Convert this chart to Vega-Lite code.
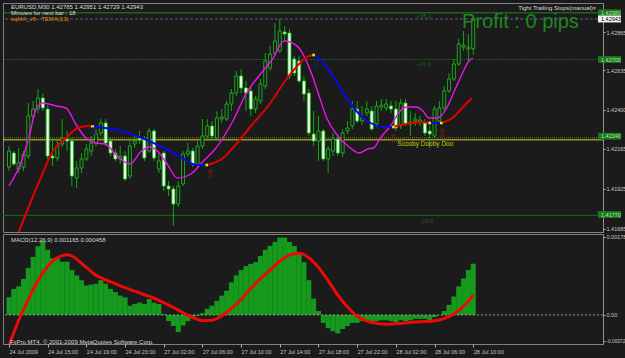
{
"$schema": "https://vega.github.io/schema/vega-lite/v6.json",
"background": "#1b1b1b",
"padding": {"left": 2, "top": 2, "right": 0, "bottom": 2},
"spacing": 2,
"bounds": "flush",
"config": {
  "view": {"stroke": "#808080", "fill": "#1b1b1b"},
  "font": "Liberation Sans",
  "axis": {"labelFont": "Liberation Sans", "labelFontSize": 5.5, "labelColor": "#c8c8c8", "grid": false, "tickColor": "#b0b0b0", "tickSize": 2, "labelPadding": 1},
  "text": {"font": "Liberation Sans"}
},
"datasets": {
  "candles": [
    {"i":0,"o":1.42055,"h":1.42181,"l":1.42031,"c":1.42151},
    {"i":1,"o":1.42139,"h":1.42151,"l":1.42061,"c":1.42073},
    {"i":2,"o":1.42043,"h":1.42169,"l":1.42019,"c":1.42079},
    {"i":3,"o":1.42055,"h":1.42151,"l":1.42031,"c":1.42133},
    {"i":4,"o":1.42121,"h":1.42439,"l":1.42103,"c":1.42361},
    {"i":5,"o":1.42361,"h":1.42451,"l":1.42343,"c":1.42403},
    {"i":6,"o":1.42403,"h":1.42523,"l":1.42379,"c":1.42469},
    {"i":7,"o":1.42469,"h":1.42499,"l":1.42391,"c":1.42409},
    {"i":8,"o":1.42403,"h":1.42427,"l":1.42103,"c":1.42121},
    {"i":9,"o":1.42121,"h":1.42211,"l":1.42061,"c":1.42109},
    {"i":10,"o":1.42109,"h":1.42223,"l":1.42091,"c":1.42181},
    {"i":11,"o":1.42193,"h":1.42343,"l":1.42175,"c":1.42229},
    {"i":12,"o":1.42223,"h":1.42271,"l":1.42151,"c":1.42211},
    {"i":13,"o":1.42211,"h":1.42229,"l":1.41941,"c":1.42001},
    {"i":14,"o":1.41989,"h":1.42091,"l":1.41929,"c":1.42049},
    {"i":15,"o":1.42049,"h":1.42139,"l":1.42019,"c":1.42103},
    {"i":16,"o":1.42103,"h":1.42193,"l":1.42091,"c":1.42163},
    {"i":17,"o":1.42151,"h":1.42241,"l":1.42121,"c":1.42199},
    {"i":18,"o":1.42199,"h":1.42283,"l":1.42181,"c":1.42253},
    {"i":19,"o":1.42259,"h":1.42343,"l":1.42241,"c":1.42319},
    {"i":20,"o":1.42319,"h":1.42343,"l":1.42181,"c":1.42199},
    {"i":21,"o":1.42211,"h":1.42229,"l":1.42121,"c":1.42139},
    {"i":22,"o":1.42139,"h":1.42163,"l":1.42091,"c":1.42103},
    {"i":23,"o":1.42103,"h":1.42181,"l":1.42073,"c":1.42121},
    {"i":24,"o":1.42121,"h":1.42151,"l":1.41971,"c":1.41983},
    {"i":25,"o":1.42001,"h":1.42211,"l":1.41983,"c":1.42181},
    {"i":26,"o":1.42193,"h":1.42253,"l":1.42169,"c":1.42211},
    {"i":27,"o":1.42229,"h":1.42271,"l":1.42193,"c":1.42217},
    {"i":28,"o":1.42223,"h":1.42241,"l":1.42091,"c":1.42109},
    {"i":29,"o":1.42151,"h":1.42289,"l":1.42139,"c":1.42271},
    {"i":30,"o":1.42271,"h":1.42283,"l":1.42091,"c":1.42109},
    {"i":31,"o":1.42043,"h":1.42139,"l":1.42019,"c":1.42091},
    {"i":32,"o":1.42139,"h":1.42151,"l":1.41911,"c":1.41941},
    {"i":33,"o":1.41941,"h":1.41971,"l":1.41881,"c":1.41923},
    {"i":34,"o":1.41923,"h":1.41941,"l":1.41701,"c":1.41833},
    {"i":35,"o":1.41833,"h":1.41971,"l":1.41815,"c":1.41941},
    {"i":36,"o":1.41953,"h":1.42151,"l":1.41941,"c":1.42133},
    {"i":37,"o":1.42133,"h":1.42199,"l":1.42115,"c":1.42151},
    {"i":38,"o":1.42151,"h":1.42169,"l":1.42055,"c":1.42073},
    {"i":39,"o":1.42073,"h":1.42211,"l":1.42055,"c":1.42181},
    {"i":40,"o":1.42181,"h":1.42343,"l":1.42163,"c":1.42241},
    {"i":41,"o":1.42241,"h":1.42343,"l":1.42223,"c":1.42301},
    {"i":42,"o":1.42301,"h":1.42331,"l":1.42211,"c":1.42241},
    {"i":43,"o":1.42229,"h":1.42391,"l":1.42211,"c":1.42349},
    {"i":44,"o":1.42343,"h":1.42403,"l":1.42319,"c":1.42355},
    {"i":45,"o":1.42343,"h":1.42451,"l":1.42331,"c":1.42433},
    {"i":46,"o":1.42433,"h":1.42523,"l":1.42391,"c":1.42499},
    {"i":47,"o":1.42499,"h":1.42631,"l":1.42481,"c":1.42601},
    {"i":48,"o":1.42601,"h":1.42643,"l":1.42499,"c":1.42529},
    {"i":49,"o":1.42529,"h":1.42571,"l":1.42391,"c":1.42499},
    {"i":50,"o":1.42511,"h":1.42541,"l":1.42361,"c":1.42403},
    {"i":51,"o":1.42403,"h":1.42481,"l":1.42379,"c":1.42463},
    {"i":52,"o":1.42451,"h":1.42583,"l":1.42433,"c":1.42553},
    {"i":53,"o":1.42541,"h":1.42739,"l":1.42523,"c":1.42691},
    {"i":54,"o":1.42649,"h":1.42781,"l":1.42631,"c":1.42733},
    {"i":55,"o":1.42739,"h":1.42919,"l":1.42721,"c":1.42811},
    {"i":56,"o":1.42751,"h":1.42943,"l":1.42739,"c":1.42871},
    {"i":57,"o":1.42865,"h":1.42901,"l":1.42811,"c":1.42853},
    {"i":58,"o":1.42859,"h":1.42883,"l":1.42583,"c":1.42601},
    {"i":59,"o":1.42703,"h":1.42721,"l":1.42601,"c":1.42619},
    {"i":60,"o":1.42691,"h":1.42721,"l":1.42559,"c":1.42571},
    {"i":61,"o":1.42571,"h":1.42601,"l":1.42451,"c":1.42493},
    {"i":62,"o":1.42499,"h":1.42523,"l":1.42241,"c":1.42259},
    {"i":63,"o":1.42253,"h":1.42391,"l":1.42181,"c":1.42211},
    {"i":64,"o":1.42211,"h":1.42361,"l":1.42091,"c":1.42271},
    {"i":65,"o":1.42271,"h":1.42283,"l":1.42091,"c":1.42103},
    {"i":66,"o":1.42103,"h":1.42181,"l":1.42019,"c":1.42163},
    {"i":67,"o":1.42151,"h":1.42259,"l":1.42121,"c":1.42223},
    {"i":68,"o":1.42223,"h":1.42241,"l":1.42121,"c":1.42139},
    {"i":69,"o":1.42139,"h":1.42283,"l":1.42115,"c":1.42259},
    {"i":70,"o":1.42271,"h":1.42331,"l":1.42253,"c":1.42289},
    {"i":71,"o":1.42301,"h":1.42451,"l":1.42283,"c":1.42403},
    {"i":72,"o":1.42403,"h":1.42451,"l":1.42319,"c":1.42331},
    {"i":73,"o":1.42331,"h":1.42421,"l":1.42307,"c":1.42349},
    {"i":74,"o":1.42379,"h":1.42451,"l":1.42361,"c":1.42403},
    {"i":75,"o":1.42391,"h":1.42421,"l":1.42271,"c":1.42283},
    {"i":76,"o":1.42313,"h":1.42451,"l":1.42295,"c":1.42421},
    {"i":77,"o":1.42415,"h":1.42463,"l":1.42391,"c":1.42427},
    {"i":78,"o":1.42409,"h":1.42463,"l":1.42391,"c":1.42433},
    {"i":79,"o":1.42421,"h":1.42451,"l":1.42379,"c":1.42403},
    {"i":80,"o":1.42403,"h":1.42451,"l":1.42271,"c":1.42289},
    {"i":81,"o":1.42301,"h":1.42463,"l":1.42283,"c":1.42439},
    {"i":82,"o":1.42439,"h":1.42463,"l":1.42301,"c":1.42313},
    {"i":83,"o":1.42313,"h":1.42391,"l":1.42241,"c":1.42325},
    {"i":84,"o":1.42331,"h":1.42379,"l":1.42301,"c":1.42343},
    {"i":85,"o":1.42325,"h":1.42361,"l":1.42301,"c":1.42337},
    {"i":86,"o":1.42319,"h":1.42343,"l":1.42241,"c":1.42259},
    {"i":87,"o":1.42271,"h":1.42301,"l":1.42169,"c":1.42253},
    {"i":88,"o":1.42241,"h":1.42421,"l":1.42229,"c":1.42403},
    {"i":89,"o":1.42331,"h":1.42451,"l":1.42319,"c":1.42409},
    {"i":90,"o":1.42409,"h":1.42541,"l":1.42391,"c":1.42511},
    {"i":91,"o":1.42511,"h":1.42619,"l":1.42499,"c":1.42583},
    {"i":92,"o":1.42583,"h":1.42703,"l":1.42571,"c":1.42673},
    {"i":93,"o":1.42673,"h":1.42823,"l":1.42661,"c":1.42793},
    {"i":94,"o":1.42775,"h":1.42871,"l":1.42751,"c":1.42787},
    {"i":95,"o":1.42763,"h":1.42853,"l":1.42691,"c":1.42775},
    {"i":96,"o":1.42765,"h":1.42951,"l":1.42729,"c":1.42943}
  ],
  "magenta": [
    {"i":0,"p":1.41941},{"i":2.6,"p":1.42091},{"i":4.1,"p":1.42229},{"i":5.7,"p":1.42409},{"i":7.1,"p":1.42439},
    {"i":9.8,"p":1.42421},{"i":11.8,"p":1.42409},{"i":13.8,"p":1.42313},{"i":15.9,"p":1.42229},{"i":17.9,"p":1.42199},
    {"i":19.9,"p":1.42193},{"i":22,"p":1.42133},{"i":25,"p":1.42073},{"i":27.4,"p":1.42151},{"i":29.1,"p":1.42175},
    {"i":30.7,"p":1.42151},{"i":32.7,"p":1.42073},{"i":34.8,"p":1.41989},{"i":37.6,"p":1.42013},{"i":40.2,"p":1.42091},
    {"i":42.3,"p":1.42151},{"i":46.3,"p":1.42331},{"i":49,"p":1.42493},{"i":52,"p":1.42613},{"i":54.5,"p":1.42703},
    {"i":56.9,"p":1.42811},{"i":58.1,"p":1.42805},{"i":60,"p":1.42769},{"i":61.2,"p":1.42709},{"i":62.6,"p":1.42613},
    {"i":64,"p":1.42493},{"i":65.7,"p":1.42349},{"i":67.7,"p":1.42253},{"i":70.1,"p":1.42181},{"i":72.4,"p":1.42139},
    {"i":74.2,"p":1.42163},{"i":75.4,"p":1.42169},{"i":76.8,"p":1.42229},{"i":78.9,"p":1.42301},{"i":80.9,"p":1.42391},
    {"i":82.3,"p":1.42415},{"i":84.3,"p":1.42415},{"i":85.6,"p":1.42391},{"i":86.8,"p":1.42349},{"i":88.6,"p":1.42349},
    {"i":90.4,"p":1.42403},{"i":92.1,"p":1.42511},{"i":93.7,"p":1.42613},{"i":95.1,"p":1.42691},{"i":95.9,"p":1.42709}
  ],
  "ma": [
    {"seg":1,"trend":"up","i":1.6,"p":1.41635},{"seg":1,"trend":"up","i":6.3,"p":1.41971},{"seg":1,"trend":"up","i":9.1,"p":1.42151},
    {"seg":1,"trend":"up","i":11.8,"p":1.42229},{"seg":1,"trend":"up","i":14.2,"p":1.42289},{"seg":1,"trend":"up","i":16.5,"p":1.42301},
    {"seg":1,"trend":"up","i":17.3,"p":1.42298},
    {"seg":2,"trend":"down","i":17.3,"p":1.42298},{"seg":2,"trend":"down","i":19.9,"p":1.42289},{"seg":2,"trend":"down","i":23.4,"p":1.42271},
    {"seg":2,"trend":"down","i":28,"p":1.42223},{"seg":2,"trend":"down","i":32.1,"p":1.42169},{"seg":2,"trend":"down","i":36.2,"p":1.42103},
    {"seg":2,"trend":"down","i":38.8,"p":1.42067},{"seg":2,"trend":"down","i":40.9,"p":1.42067},
    {"seg":3,"trend":"up","i":40.9,"p":1.42067},{"seg":3,"trend":"up","i":41.7,"p":1.42073},{"seg":3,"trend":"up","i":44.3,"p":1.42109},
    {"seg":3,"trend":"up","i":47,"p":1.42193},{"seg":3,"trend":"up","i":50.4,"p":1.42313},{"seg":3,"trend":"up","i":53.9,"p":1.42433},
    {"seg":3,"trend":"up","i":57.1,"p":1.42571},{"seg":3,"trend":"up","i":60,"p":1.42673},{"seg":3,"trend":"up","i":62,"p":1.42721},
    {"seg":3,"trend":"up","i":63,"p":1.42727},
    {"seg":4,"trend":"down","i":63,"p":1.42727},{"seg":4,"trend":"down","i":64.2,"p":1.42703},{"seg":4,"trend":"down","i":66.7,"p":1.42613},
    {"seg":4,"trend":"down","i":69.3,"p":1.42493},{"seg":4,"trend":"down","i":72.2,"p":1.42379},{"seg":4,"trend":"down","i":74.8,"p":1.42319},
    {"seg":4,"trend":"down","i":77.4,"p":1.42295},{"seg":4,"trend":"down","i":79.5,"p":1.42295},
    {"seg":5,"trend":"up","i":79.5,"p":1.42295},{"seg":5,"trend":"up","i":80.9,"p":1.42307},{"seg":5,"trend":"up","i":83.5,"p":1.42319},
    {"seg":5,"trend":"up","i":85.6,"p":1.42325},{"seg":5,"trend":"up","i":87,"p":1.42319},
    {"seg":6,"trend":"down","i":87,"p":1.42319},{"seg":6,"trend":"down","i":89.4,"p":1.42319},
    {"seg":7,"trend":"up","i":89.4,"p":1.42319},{"seg":7,"trend":"up","i":91.7,"p":1.42349},{"seg":7,"trend":"up","i":93.7,"p":1.42409},
    {"seg":7,"trend":"up","i":95.7,"p":1.42469}
  ],
  "turns": [
    {"i":17.3,"p":1.42298},{"i":40.9,"p":1.42067},{"i":63,"p":1.42727},{"i":79.5,"p":1.42295},{"i":87,"p":1.42319},{"i":89.4,"p":1.42319}
  ],
  "levels": [
    {"p":1.4298,"kind":"fib top"},{"p":1.42943,"kind":"bid"},{"p":1.427,"kind":"fib"},
    {"p":1.4223,"kind":"stop"},{"p":1.42218,"kind":"entry"},{"p":1.41765,"kind":"fib low"}
  ],
  "fibtext": [
    {"i":84.2,"p":1.42961,"t":"+38.2"},{"i":84.2,"p":1.42673,"t":"+23.6"},{"i":85,"p":1.41731,"t":"-23.6"}
  ],
  "tags": [
    {"p":1.4298,"t":"1.42980","kind":"level"},{"p":1.42943,"t":"1.42943","kind":"bid"},{"p":1.427,"t":"1.42700","kind":"level"},
    {"p":1.4224,"t":"1.42240","kind":"level"},{"p":1.4177,"t":"1.41770","kind":"level"}
  ],
  "arrows": [
    {"i":41.7,"p":1.42013,"dir":"up","g":"⇧"},{"i":79.5,"p":1.42229,"dir":"up","g":"⇧"},{"i":89.6,"p":1.42259,"dir":"up","g":"⇧"},
    {"i":63.8,"p":1.42673,"dir":"down","g":"⇩"},{"i":17.5,"p":1.42265,"dir":"down","g":"⇩"}
  ],
  "infotext": [
    {"i":0.4,"p":1.43015,"t":"EURUSD,M30  1.42765 1.42951 1.42729 1.42943"},
    {"i":0.4,"p":1.42979,"t":"Minutes for next bar : 18"},
    {"i":105.3,"p":1.43009,"t":"Tight Trailing Stops(manual)"},
    {"i":120.7,"p":1.43009,"t":"×"}
  ],
  "indtext": [{"i":0.4,"p":1.42943,"t":"sqMA_v6 - TEMA(13)"}],
  "scooby": [{"i":80.3,"p":1.42193,"t":"Scooby Dooby Doo"}],
  "profit": [{"i":93.7,"p":1.42889,"t":"Profit : 0 pips"}],
  "hist": [
    {"i":0,"m":0.0004},{"i":1,"m":0.00059},{"i":2,"m":0.00065},{"i":3,"m":0.00082},{"i":4,"m":0.00107},{"i":5,"m":0.00132},
    {"i":6,"m":0.00156},{"i":7,"m":0.00169},{"i":8,"m":0.00148},{"i":9,"m":0.00129},{"i":10,"m":0.00132},{"i":11,"m":0.00121},
    {"i":12,"m":0.00121},{"i":13,"m":0.00102},{"i":14,"m":0.0009},{"i":15,"m":0.00079},{"i":16,"m":0.00067},{"i":17,"m":0.00069},
    {"i":18,"m":0.00071},{"i":19,"m":0.00079},{"i":20,"m":0.00071},{"i":21,"m":0.00059},{"i":22,"m":0.00052},{"i":23,"m":0.00044},
    {"i":24,"m":0.0004},{"i":25,"m":0.00021},{"i":26,"m":0.00025},{"i":27,"m":0.00028},{"i":28,"m":0.00025},{"i":29,"m":0.00036},
    {"i":30,"m":0.00028},{"i":31,"m":0.00025},{"i":32,"m":0.00002},{"i":33,"m":-0.00014},{"i":34,"m":-0.00025},{"i":35,"m":-0.00039},
    {"i":36,"m":-0.00024},{"i":37,"m":-0.00014},{"i":38,"m":-0.00006},{"i":39,"m":-0.00002},{"i":40,"m":0.00004},{"i":41,"m":0.00014},
    {"i":42,"m":0.00021},{"i":43,"m":0.00032},{"i":44,"m":0.00044},{"i":45,"m":0.00055},{"i":46,"m":0.00074},{"i":47,"m":0.0009},
    {"i":48,"m":0.00102},{"i":49,"m":0.00111},{"i":50,"m":0.00116},{"i":51,"m":0.0012},{"i":52,"m":0.00134},{"i":53,"m":0.00148},
    {"i":54,"m":0.00157},{"i":55,"m":0.00166},{"i":56,"m":0.00176},{"i":57,"m":0.00176},{"i":58,"m":0.00166},{"i":59,"m":0.00157},
    {"i":60,"m":0.00143},{"i":61,"m":0.0012},{"i":62,"m":0.00079},{"i":63,"m":0.00037},{"i":64,"m":0.00009},{"i":65,"m":-0.00018},
    {"i":66,"m":-0.0003},{"i":67,"m":-0.00037},{"i":68,"m":-0.00042},{"i":69,"m":-0.00032},{"i":70,"m":-0.00025},{"i":71,"m":-0.00018},
    {"i":72,"m":-0.00018},{"i":73,"m":-0.00014},{"i":74,"m":-0.00014},{"i":75,"m":-0.00018},{"i":76,"m":-0.00014},{"i":77,"m":-0.00012},
    {"i":78,"m":-0.00012},{"i":79,"m":-0.00014},{"i":80,"m":-0.00016},{"i":81,"m":-0.00012},{"i":82,"m":-0.00014},{"i":83,"m":-0.00012},
    {"i":84,"m":-0.00009},{"i":85,"m":-0.00009},{"i":86,"m":-0.00009},{"i":87,"m":-0.00012},{"i":88,"m":-0.00005},{"i":89,"m":-0.00001},
    {"i":90,"m":0.00009},{"i":91,"m":0.00023},{"i":92,"m":0.00042},{"i":93,"m":0.00065},{"i":94,"m":0.00083},{"i":95,"m":0.00102},
    {"i":96,"m":0.001165}
  ],
  "signal": [
    {"i":0,"s":-0.0007},{"i":1,"s":-0.0004},{"i":2,"s":-0.00012},{"i":3,"s":0.00012},{"i":4,"s":0.00035},{"i":5,"s":0.00058},
    {"i":6,"s":0.00078},{"i":7,"s":0.00095},{"i":8,"s":0.0011},{"i":9,"s":0.00122},{"i":10,"s":0.0013},{"i":11,"s":0.00135},
    {"i":12,"s":0.00137},{"i":13,"s":0.00134},{"i":14,"s":0.00127},{"i":15,"s":0.00117},{"i":16,"s":0.00108},{"i":18,"s":0.0009},
    {"i":20,"s":0.0008},{"i":22,"s":0.00071},{"i":24,"s":0.00062},{"i":26,"s":0.00054},{"i":28,"s":0.00046},{"i":30,"s":0.00038},
    {"i":32,"s":0.00028},{"i":34,"s":0.00017},{"i":36,"s":0.00005},{"i":38,"s":-0.00006},{"i":40,"s":-0.00013},{"i":42,"s":-0.00012},
    {"i":44,"s":-0.00002},{"i":46,"s":0.00015},{"i":48,"s":0.00035},{"i":50,"s":0.0006},{"i":52,"s":0.00082},{"i":54,"s":0.00102},
    {"i":56,"s":0.00122},{"i":58,"s":0.00136},{"i":60,"s":0.0014},{"i":62,"s":0.0013},{"i":64,"s":0.00108},{"i":66,"s":0.00078},
    {"i":68,"s":0.00045},{"i":70,"s":0.00018},{"i":72,"s":-0.00003},{"i":74,"s":-0.00014},{"i":76,"s":-0.00019},{"i":78,"s":-0.00021},
    {"i":80,"s":-0.0002},{"i":82,"s":-0.00018},{"i":84,"s":-0.00016},{"i":86,"s":-0.00015},{"i":88,"s":-0.00013},{"i":90,"s":-0.00008},
    {"i":92,"s":0.00002},{"i":94,"s":0.0002},{"i":96,"s":0.000458}
  ],
  "macdtext": [
    {"i":0.4,"v":0.00171,"t":"MACD(12,26,9) 0.001165 0.000458"},
    {"i":0.2,"v":-0.00062,"t":"FxPro MT4, © 2001-2009 MetaQuotes Software Corp."}
  ]
},
"vconcat": [
  {
    "width": 600, "height": 229,
    "resolve": {"scale": {"color": "independent", "strokeDash": "independent"}},
    "layer": [
      {
        "data": {"name": "levels"},
        "mark": {"type": "rule", "strokeWidth": 1},
        "encoding": {
          "y": {"field": "p", "type": "quantitative", "title": null,
                "scale": {"domain": [1.41665, 1.43039], "nice": false, "zero": false},
                "axis": {"orient": "right", "values": [1.42865,1.4275,1.42635,1.42515,1.424,1.42285,1.42165,1.42045,1.41925,1.41805,1.41685],
                         "format": ".5f", "minExtent": 21, "maxExtent": 21, "domain": true, "domainColor": "#a0a0a0", "domainDash": [1,1], "labelOverlap": false}},
          "color": {"field": "kind", "type": "nominal", "legend": null,
                    "scale": {"domain": ["fib top","bid","fib","stop","entry","fib low"], "range": ["#1d8a1d","#5a5a96","#1b5a1b","#7d7d2a","#d6d61e","#1b6a1b"]}},
          "strokeDash": {"field": "kind", "type": "nominal", "legend": null,
                    "scale": {"domain": ["fib top","bid","fib","stop","entry","fib low"], "range": [[1,0],[3,2],[2,1],[1,1],[1,0],[1,0]]}}
        }
      },
      {
        "data": {"name": "fibtext"},
        "mark": {"type": "text", "align": "left", "baseline": "middle", "fontSize": 6, "color": "#1f5f1f"},
        "encoding": {
          "x": {"field": "i", "type": "quantitative", "title": null, "axis": null, "scale": {"domain": [-0.2, 121.8], "nice": false, "zero": false}},
          "y": {"field": "p", "type": "quantitative", "title": null},
          "text": {"field": "t"}
        }
      },
      {
        "data": {"name": "candles"},
        "mark": {"type": "rule", "color": "#12a812", "strokeWidth": 1},
        "encoding": {
          "x": {"field": "i", "type": "quantitative", "title": null},
          "y": {"field": "l", "type": "quantitative", "title": null},
          "y2": {"field": "h"}
        }
      },
      {
        "data": {"name": "candles"},
        "mark": {"type": "bar", "size": 3, "stroke": "#1fc81f", "strokeWidth": 0.8},
        "encoding": {
          "x": {"field": "i", "type": "quantitative", "title": null},
          "y": {"field": "o", "type": "quantitative", "title": null},
          "y2": {"field": "c"},
          "fill": {"condition": {"test": "datum.c < datum.o", "value": "#eaffea"}, "value": "#1b1b1b"}
        }
      },
      {
        "data": {"name": "magenta"},
        "mark": {"type": "line", "color": "#f010f0", "strokeWidth": 1.4, "interpolate": "monotone", "clip": true},
        "encoding": {
          "x": {"field": "i", "type": "quantitative", "title": null},
          "y": {"field": "p", "type": "quantitative", "title": null}
        }
      },
      {
        "data": {"name": "ma"},
        "mark": {"type": "line", "strokeWidth": 2, "interpolate": "monotone", "clip": true},
        "encoding": {
          "x": {"field": "i", "type": "quantitative", "title": null},
          "y": {"field": "p", "type": "quantitative", "title": null},
          "detail": {"field": "seg", "type": "nominal"},
          "color": {"field": "trend", "type": "nominal", "legend": null,
                    "scale": {"domain": ["up","down"], "range": ["#e00000","#0a0ae6"]}}
        }
      },
      {
        "data": {"name": "turns"},
        "mark": {"type": "point", "shape": "square", "filled": true, "size": 7, "color": "#e8e800", "opacity": 1},
        "encoding": {
          "x": {"field": "i", "type": "quantitative", "title": null},
          "y": {"field": "p", "type": "quantitative", "title": null}
        }
      },
      {
        "data": {"name": "arrows"},
        "mark": {"type": "text", "align": "center", "baseline": "middle", "fontSize": 12, "font": "DejaVu Sans"},
        "encoding": {
          "x": {"field": "i", "type": "quantitative", "title": null},
          "y": {"field": "p", "type": "quantitative", "title": null},
          "text": {"field": "g"},
          "color": {"field": "dir", "type": "nominal", "legend": null,
                    "scale": {"domain": ["up","down"], "range": ["#8a1818","#1c1c8a"]}}
        }
      },
      {
        "data": {"name": "scooby"},
        "mark": {"type": "text", "align": "left", "baseline": "middle", "fontSize": 6.5, "color": "#c8c814"},
        "encoding": {
          "x": {"field": "i", "type": "quantitative", "title": null},
          "y": {"field": "p", "type": "quantitative", "title": null},
          "text": {"field": "t"}
        }
      },
      {
        "data": {"name": "infotext"},
        "mark": {"type": "text", "align": "left", "baseline": "middle", "fontSize": 6, "color": "#dedede"},
        "encoding": {
          "x": {"field": "i", "type": "quantitative", "title": null},
          "y": {"field": "p", "type": "quantitative", "title": null},
          "text": {"field": "t"}
        }
      },
      {
        "data": {"name": "indtext"},
        "mark": {"type": "text", "align": "left", "baseline": "middle", "fontSize": 6, "color": "#e08a00"},
        "encoding": {
          "x": {"field": "i", "type": "quantitative", "title": null},
          "y": {"field": "p", "type": "quantitative", "title": null},
          "text": {"field": "t"}
        }
      },
      {
        "data": {"name": "profit"},
        "mark": {"type": "text", "align": "left", "baseline": "alphabetic", "fontSize": 20, "color": "#1f861f"},
        "encoding": {
          "x": {"field": "i", "type": "quantitative", "title": null},
          "y": {"field": "p", "type": "quantitative", "title": null},
          "text": {"field": "t"}
        }
      },
      {
        "data": {"name": "tags"},
        "mark": {"type": "point", "shape": "M-1,-0.3H1V0.3H-1Z", "filled": true, "size": 529, "xOffset": 11.5, "opacity": 1},
        "encoding": {
          "x": {"datum": 121.8, "type": "quantitative", "title": null},
          "y": {"field": "p", "type": "quantitative", "title": null},
          "color": {"field": "kind", "type": "nominal", "legend": null,
                    "scale": {"domain": ["level","bid"], "range": ["#1f761f","#f2f2f2"]}}
        }
      },
      {
        "data": {"name": "tags"},
        "mark": {"type": "text", "align": "left", "baseline": "middle", "fontSize": 5.5, "dx": 3},
        "encoding": {
          "x": {"datum": 121.8, "type": "quantitative", "title": null},
          "y": {"field": "p", "type": "quantitative", "title": null},
          "text": {"field": "t"},
          "color": {"field": "kind", "type": "nominal", "legend": null,
                    "scale": {"domain": ["level","bid"], "range": ["#a8e8a8","#000000"]}}
        }
      }
    ]
  },
  {
    "width": 600, "height": 110,
    "layer": [
      {
        "data": {"name": "hist"},
        "mark": {"type": "bar", "size": 5, "color": "#169a1e"},
        "encoding": {
          "x": {"field": "i", "type": "quantitative", "title": null,
                "scale": {"domain": [-0.2, 121.8], "nice": false, "zero": false},
                "axis": {"orient": "bottom", "values": [0,8,16,24,32,40,48,56,64,72,80,88,96],
                         "labelExpr": "['24 Jul 2009','24 Jul 15:00','24 Jul 19:00','24 Jul 23:00','27 Jul 02:00','27 Jul 06:00','27 Jul 10:00','27 Jul 14:00','27 Jul 18:00','27 Jul 22:00','28 Jul 02:00','28 Jul 06:00','28 Jul 10:00'][round(datum.value/8)]",
                         "labelAlign": "left", "labelBaseline": "top", "tickSize": 3, "labelPadding": 2, "minExtent": 12, "maxExtent": 12,
                         "domain": false, "labelFlush": false, "labelOverlap": false}},
          "y": {"field": "m", "type": "quantitative", "title": null,
                "scale": {"domain": [-0.00066, 0.00184], "nice": false, "zero": false},
                "axis": {"orient": "right", "values": [0.00178, 0, -0.0006],
                         "labelExpr": "datum.value > 0.001 ? '0.00178' : (datum.value < 0 ? '-0.00072' : '0.00')",
                         "labelFontSize": {"condition": {"test": "datum.value < 0", "value": 4.8}, "value": 5.5},
                         "minExtent": 21, "maxExtent": 21, "domain": true, "domainColor": "#a0a0a0", "domainDash": [1,1], "labelOverlap": false}},
          "y2": {"datum": 0}
        }
      },
      {
        "data": {"values": [{"z": 0}]},
        "mark": {"type": "rule", "color": "#9a9a9a", "strokeDash": [2,2], "strokeWidth": 1},
        "encoding": {"y": {"field": "z", "type": "quantitative", "title": null}}
      },
      {
        "data": {"name": "signal"},
        "mark": {"type": "line", "color": "#ee0808", "strokeWidth": 3, "interpolate": "monotone", "clip": true},
        "encoding": {
          "x": {"field": "i", "type": "quantitative", "title": null},
          "y": {"field": "s", "type": "quantitative", "title": null}
        }
      },
      {
        "data": {"name": "macdtext"},
        "mark": {"type": "text", "align": "left", "baseline": "middle", "fontSize": 6, "color": "#d8d8d8"},
        "encoding": {
          "x": {"field": "i", "type": "quantitative", "title": null},
          "y": {"field": "v", "type": "quantitative", "title": null},
          "text": {"field": "t"}
        }
      }
    ]
  }
]
}
